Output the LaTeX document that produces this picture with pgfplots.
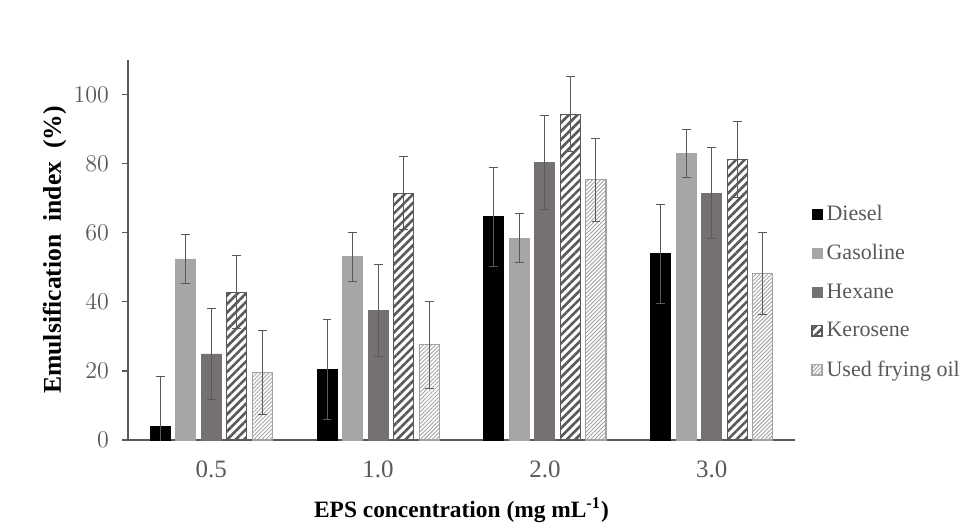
\documentclass[border=0pt]{standalone}
\usepackage{fontspec}
\setmainfont{Liberation Serif}
\usepackage{pgfplots}
\usepackage{pgfplotstable}
\pgfplotsset{compat=1.18}
\usetikzlibrary{patterns.meta}

\definecolor{gas}{HTML}{A6A6A6}
\definecolor{hex}{HTML}{767171}
\definecolor{ker}{HTML}{595959}
\definecolor{ufo}{HTML}{A3A3A3}
\definecolor{txt}{HTML}{595959}

% x = group index, then value and SD for each oil
\pgfplotstableread{
x D De G Ge H He K Ke U Ue
0 4.0 14.4 52.4 7.1 24.9 13.2 42.8 10.6 19.5 12.2
1 20.3 14.5 53.1 7.1 37.5 13.2 71.4 10.6 27.6 12.6
2 64.6 14.3 58.4 7.1 80.3 13.6 94.3 10.9 75.3 12.0
3 53.9 14.3 83.0 7.0 71.5 13.2 81.3 11.0 48.2 12.0
}\datatable

\begin{document}
\begin{tikzpicture}
\useasboundingbox (-64pt,-45.5pt) rectangle (425.5pt,220pt);
\begin{axis}[
    scale only axis,
    width=333.5pt, height=190pt,
    ybar, bar width=0.12,
    xmin=-0.5, xmax=3.5,
    ymin=0, ymax=110,
    axis lines*=left,
    axis line style={color=txt, line width=0.8pt},
    xtick={0,1,2,3},
    xticklabels={0.5,1.0,2.0,3.0},
    x tick style={draw=none},
    ytick={0,20,...,100},
    y tick style={color=txt, line width=0.6pt},
    tick align=outside,
    major tick length=3pt,
    ticklabel style={font=\fontsize{12.5}{14}\selectfont, text=txt},
    xticklabel style={yshift=-4pt},
    yticklabel style={xshift=-3pt},
    xlabel={\textbf{EPS concentration (mg mL\textsuperscript{-1})}},
    ylabel={\textbf{Emulsification\ \ index\ \ (\%)}},
    xlabel style={font=\fontsize{11.7}{14}\selectfont,
        at={(axis description cs:0.5,0)}, anchor=center, yshift=-35pt},
    ylabel style={font=\fontsize{12.8}{14}\selectfont,
        at={(axis description cs:-0.11,0.5)}, anchor=center},
    legend style={at={(axis description cs:1.015,0.64)}, anchor=north west,
        draw=none, fill=none, font=\fontsize{11}{12}\selectfont,
        text=txt, row sep=6.5pt},
    legend cell align=left,
    legend image code/.code={\draw[#1] (0pt,-2.6pt) rectangle (5pt,2.6pt);},
    errs/.style={error bars/.cd, y dir=both, y explicit,
        error bar style={line width=0.5pt, color=txt},
        error mark options={rotate=90, mark size=2.2pt, line width=0.5pt, color=txt}},
  ]
  \addplot[fill=black, draw=black, bar shift=-0.306, errs]
    table[x=x, y=D, y error=De] {\datatable};
  \addplot[fill=gas, draw=gas, bar shift=-0.153, errs]
    table[x=x, y=G, y error=Ge] {\datatable};
  \addplot[fill=hex, draw=hex, bar shift=0, errs]
    table[x=x, y=H, y error=He] {\datatable};
  \addplot[pattern={Lines[angle=45, distance=3pt, line width=1.3pt]},
      pattern color=ker, draw=ker, line width=0.6pt, bar shift=0.153, errs]
    table[x=x, y=K, y error=Ke] {\datatable};
  \addplot[pattern={Lines[angle=45, distance=1.4pt, line width=0.45pt]},
      pattern color=ufo, draw=ufo, line width=0.6pt, bar shift=0.306, errs]
    table[x=x, y=U, y error=Ue] {\datatable};
  \legend{Diesel, Gasoline, Hexane, Kerosene, Used frying oil}
\end{axis}
\end{tikzpicture}
\end{document}
